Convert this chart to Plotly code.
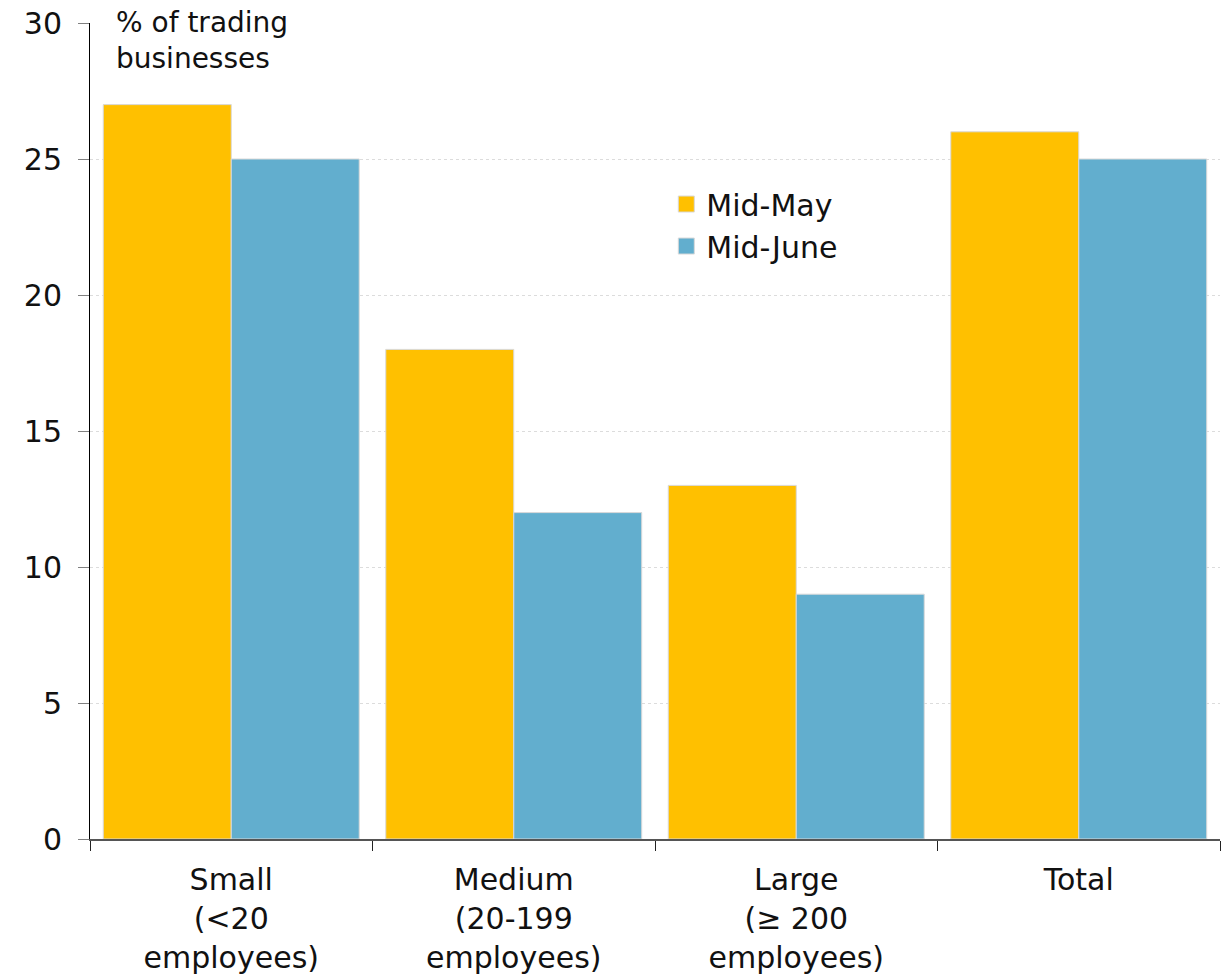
import plotly.graph_objects as go

categories = ["Small<br>(<20<br>employees)", "Medium<br>(20-199<br>employees)",
              "Large<br>(≥ 200<br>employees)", "Total"]
mid_may = [27, 18, 13, 26]
mid_june = [25, 12, 9, 25]
series_names = ["Mid-May", "Mid-June"]
colors = ["#FFC000", "#62AECE"]
y_ticks = [0, 5, 10, 15, 20, 25, 30]

FONT = "DejaVu Sans"
FS = 30

fig = go.Figure()
for name, vals, col in zip(series_names, [mid_may, mid_june], colors):
    fig.add_trace(go.Bar(
        x=categories, y=vals, name=name, showlegend=False,
        marker=dict(color=col, line=dict(color="#d9d9d9", width=1)),
    ))
# legend entries with larger square swatches
for name, col in zip(series_names, colors):
    fig.add_trace(go.Scatter(
        x=[None], y=[None], mode="markers", name=name,
        marker=dict(symbol="square", size=18, color=col,
                    line=dict(color="#d9d9d9", width=1)),
    ))

fig.update_layout(
    width=1226, height=977,
    barmode="group", bargap=0.094, bargroupgap=0,
    plot_bgcolor="white", paper_bgcolor="white",
    margin=dict(l=90, r=6, t=23, b=138),
    font=dict(family=FONT, size=FS, color="#111111"),
    showlegend=True,
    legend=dict(x=0.51, y=0.81, xanchor="left", yanchor="top",
                bgcolor="rgba(0,0,0,0)", font=dict(size=FS, color="#111111"),
                tracegroupgap=0),
)
fig.update_yaxes(
    range=[0, 30], tickvals=y_ticks, showgrid=True, gridcolor="#dcdcdc",
    griddash="dot", gridwidth=1, showline=True, linecolor="black", linewidth=1,
    ticks="outside", ticklen=11, tickcolor="#808080", tickfont=dict(size=FS),
    zeroline=False, ticklabelstandoff=10, ticklabeloverflow="allow",
    automargin=False,
)
fig.update_xaxes(
    showline=True, linecolor="#555555", linewidth=2, ticks="outside",
    tickson="boundaries", ticklen=10, tickcolor="#222222",
    tickfont=dict(size=FS), showgrid=False, ticklabelstandoff=13,
    automargin=False,
)
fig.add_annotation(
    text="% of trading<br>businesses", xref="paper", yref="paper",
    x=0.021, y=1.023, xanchor="left", yanchor="top", showarrow=False,
    align="left", font=dict(size=28, color="#111111"), bgcolor="white",
)
fig.write_html("out.html", config={"displayModeBar": False},
               post_script="document.body.style.margin='0';")
